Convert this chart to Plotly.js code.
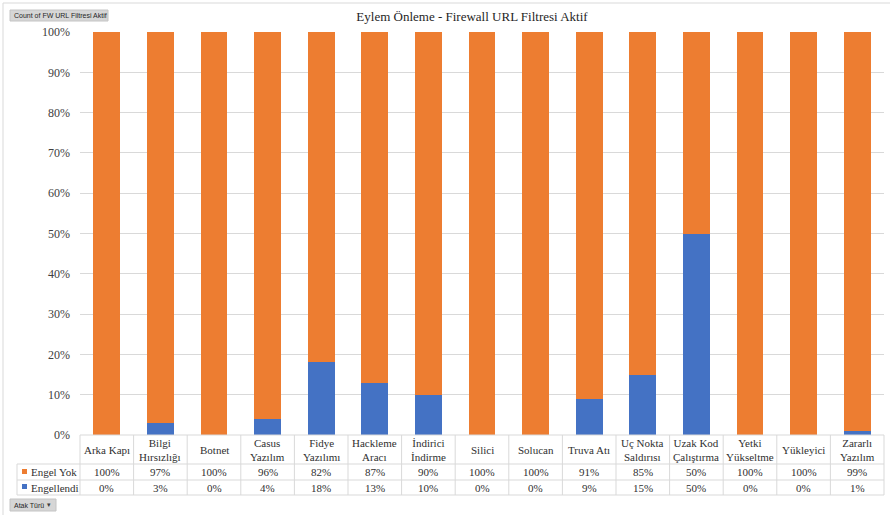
<!DOCTYPE html>
<html>
<head>
<meta charset="utf-8">
<script src="https://cdn.plot.ly/plotly-3.0.1.min.js"></script>
<style>
  html, body { margin: 0; padding: 0; background: #ffffff; }
  #chart { width: 890px; height: 515px; }
</style>
</head>
<body>
<div id="chart"></div>
<script>
// Attack types (category axis), shown in the data table under the bars
const categories = [
  "Arka Kapı", "Bilgi Hırsızlığı", "Botnet", "Casus Yazılım", "Fidye Yazılımı",
  "Hackleme Aracı", "İndirici İndirme", "Silici", "Solucan", "Truva Atı",
  "Uç Nokta Saldırısı", "Uzak Kod Çalıştırma", "Yetki Yükseltme", "Yükleyici", "Zararlı Yazılım"
];
// Two-line labels used in the table header row
const categoryLabels = [
  "Arka Kapı", "Bilgi<br>Hırsızlığı", "Botnet", "Casus<br>Yazılım", "Fidye<br>Yazılımı",
  "Hackleme<br>Aracı", "İndirici<br>İndirme", "Silici", "Solucan", "Truva Atı",
  "Uç Nokta<br>Saldırısı", "Uzak Kod<br>Çalıştırma", "Yetki<br>Yükseltme", "Yükleyici", "Zararlı<br>Yazılım"
];
// Share of events per attack type (percent)
const engelYok    = [100, 97, 100, 96, 82, 87, 90, 100, 100, 91, 85, 50, 100, 100, 99];
const engellendi  = [0, 3, 0, 4, 18, 13, 10, 0, 0, 9, 15, 50, 0, 0, 1];
const yTickVals   = [0, 0.1, 0.2, 0.3, 0.4, 0.5, 0.6, 0.7, 0.8, 0.9, 1.0];

const ORANGE = "#ED7D31";
const BLUE = "#4472C4";
const GRID = "#D9D9D9";
const TEXT = "#303030";
const SERIF = "Liberation Serif, Times New Roman, serif";

// Plot area geometry in pixels
const W = 890, H = 515;
const M = { l: 80, r: 6, t: 32, b: 80 };
const PW = W - M.l - M.r, PH = H - M.t - M.b;
const px = p => (p - M.l) / PW;            // pixel x -> paper x
const py = p => (H - M.b - p) / PH;        // pixel y -> paper y
const n = categories.length;

const traces = [
  {
    type: "bar", name: "Engellendi", x: categories,
    y: engellendi.map(v => v / 100),
    marker: { color: BLUE }, hoverinfo: "x+y+name"
  },
  {
    type: "bar", name: "Engel Yok", x: categories,
    y: engelYok.map(v => v / 100),
    marker: { color: ORANGE }, hoverinfo: "x+y+name"
  }
];

const shapes = [];
const annotations = [];
const line = (x0, y0, x1, y1, color) => shapes.push({
  type: "line", xref: "paper", yref: "paper",
  x0: x0, y0: y0, x1: x1, y1: y1,
  line: { color: color || GRID, width: 1 }
});

// Outer chart frame (top and left edges)
line(px(3), py(3), px(890), py(3));
line(px(3), py(3), px(3), py(515));

// Data table grid
const rowTop = 435, rowHead = 464, rowMid = 480, rowBot = 495, keyLeft = 17;
line(0, py(rowTop), 1, py(rowTop));
[rowHead, rowMid, rowBot].forEach(r => line(px(keyLeft), py(r), 1, py(r)));
for (let i = 0; i <= n; i++) line(i / n, py(rowTop), i / n, py(rowBot));
line(px(keyLeft), py(rowHead), px(keyLeft), py(rowBot));

// Table text: header row and the two value rows
const tableFont = { family: SERIF, size: 11, color: TEXT };
categoryLabels.forEach((lab, i) => {
  annotations.push({
    xref: "paper", yref: "paper", x: (i + 0.5) / n, y: py(449.5),
    text: lab, showarrow: false, xanchor: "center", yanchor: "middle",
    font: tableFont
  });
  annotations.push({
    xref: "paper", yref: "paper", x: (i + 0.5) / n, y: py(472),
    text: engelYok[i] + "%", showarrow: false, xanchor: "center", yanchor: "middle",
    font: tableFont
  });
  annotations.push({
    xref: "paper", yref: "paper", x: (i + 0.5) / n, y: py(488),
    text: engellendi[i] + "%", showarrow: false, xanchor: "center", yanchor: "middle",
    font: tableFont
  });
});

// Legend keys inside the table
const key = (y0, color, label, ty) => {
  shapes.push({
    type: "rect", xref: "paper", yref: "paper",
    x0: px(22), x1: px(27), y0: py(y0), y1: py(y0 + 5),
    fillcolor: color, line: { width: 0 }
  });
  annotations.push({
    xref: "paper", yref: "paper", x: px(28.5), y: py(ty),
    text: label, showarrow: false, xanchor: "left", yanchor: "middle",
    font: tableFont
  });
};
key(469, ORANGE, "Engel Yok", 472);
key(484, BLUE, "Engellendi", 488);

// Pivot field buttons
const btnFont = { family: "Liberation Sans, Arial, sans-serif", size: 7, color: "#262626" };
const button = (x0, y0, x1, y1, label) => {
  shapes.push({
    type: "rect", xref: "paper", yref: "paper",
    x0: px(x0), x1: px(x1), y0: py(y0), y1: py(y1),
    fillcolor: "#D6D6D6", line: { color: "#C4C4C4", width: 1 }
  });
  annotations.push({
    xref: "paper", yref: "paper", x: px(x0 + 2), y: py((y0 + y1) / 2),
    text: label, showarrow: false, xanchor: "left", yanchor: "middle",
    font: btnFont
  });
};
button(10, 10, 108, 21, "Count of FW URL Filtresi Aktif");
button(10, 499, 56, 511, "Atak Türü");
// dropdown arrow on the row field button
annotations.push({
  xref: "paper", yref: "paper", x: px(49), y: py(505),
  text: "▾", showarrow: false, xanchor: "center", yanchor: "middle",
  font: { family: "DejaVu Sans, sans-serif", size: 7, color: "#404040" }
});

const layout = {
  width: W, height: H,
  margin: M,
  paper_bgcolor: "#ffffff", plot_bgcolor: "#ffffff",
  barmode: "stack", bargap: 0.5,
  showlegend: false,
  title: {
    text: "Eylem Önleme - Firewall URL Filtresi Aktif",
    font: { family: SERIF, size: 13, color: "#1f1f1f" },
    xref: "container", yref: "container",
    x: 472 / W, xanchor: "center", y: 1 - 16 / H, yanchor: "middle"
  },
  xaxis: {
    type: "category", showticklabels: false, showgrid: false,
    zeroline: false, showline: false, ticks: "",
    range: [-0.5, n - 0.5], fixedrange: true
  },
  yaxis: {
    range: [0, 1], tickvals: yTickVals, tickformat: ".0%",
    showgrid: true, gridcolor: GRID, gridwidth: 1,
    zeroline: false, showline: false, ticks: "",
    ticklabelstandoff: 9,
    tickfont: { family: SERIF, size: 12, color: "#404040" },
    fixedrange: true
  },
  shapes: shapes,
  annotations: annotations
};

Plotly.newPlot("chart", traces, layout, { displayModeBar: false, staticPlot: true });
</script>
</body>
</html>
